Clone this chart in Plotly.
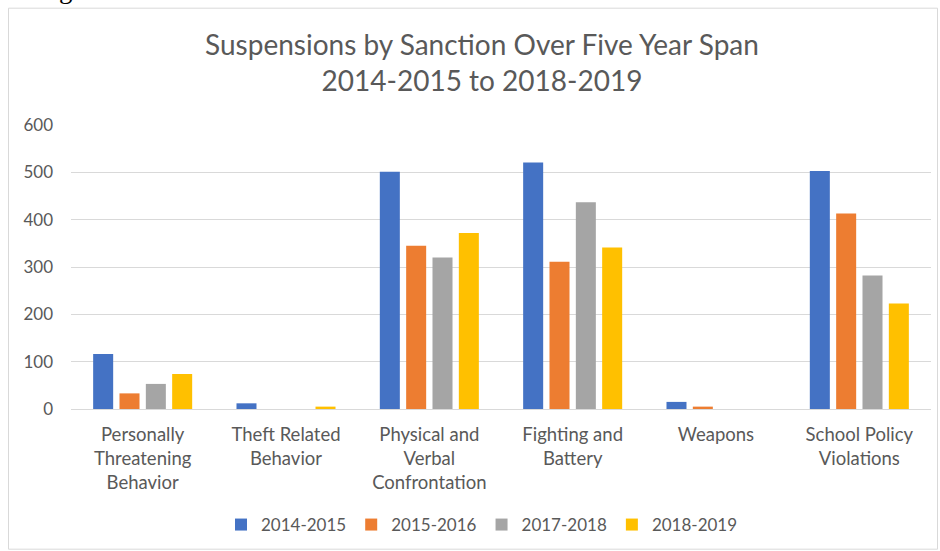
import plotly.graph_objects as go

categories = ["Personally<br>Threatening<br>Behavior", "Theft Related<br>Behavior",
              "Physical and<br>Verbal<br>Confrontation", "Fighting and<br>Battery",
              "Weapons", "School Policy<br>Violations"]
series_names = ["2014-2015", "2015-2016", "2017-2018", "2018-2019"]
v_2014_2015 = [116, 12, 501, 521, 15, 503]
v_2015_2016 = [33, 0, 345, 311, 5, 413]
v_2017_2018 = [53, 0, 320, 437, 0, 282]
v_2018_2019 = [74, 5, 372, 341, 0, 223]
colors = ["#4472C4", "#ED7D31", "#A5A5A5", "#FFC000"]
y_ticks = [0, 100, 200, 300, 400, 500, 600]

W, H = 940, 551
L, R, T, B = 71, 931, 125.3, 409.3

fig = go.Figure()
for name, vals, col in zip(series_names, [v_2014_2015, v_2015_2016, v_2017_2018, v_2018_2019], colors):
    fig.add_trace(go.Bar(x=categories, y=vals, name=name, marker=dict(color=col, line=dict(width=0))))

FONT = "Lato"
GRAY = "#595959"
ph = B - T
pw = R - L

def px_x(x):
    return (x - L) / pw

def px_y(y):
    return (B - y) / ph

fig.update_layout(
    width=W, height=H,
    margin=dict(l=L, r=W - R, t=T, b=H - B, pad=0),
    paper_bgcolor="white", plot_bgcolor="white",
    barmode="group", bargap=0.265, bargroupgap=0.24,
    font=dict(family=FONT, color=GRAY),
    title=dict(text="Suspensions by Sanction Over Five Year Span<br>2014-2015 to 2018-2019",
               x=482 / W, xanchor="center", xref="container",
               y=1 - 55 / H, yanchor="middle", yref="container",
               font=dict(family=FONT, size=28, color=GRAY)),
    xaxis=dict(showgrid=False, showline=False, ticks="", tickfont=dict(size=18.5, color=GRAY),
               ticklabelstandoff=12),
    yaxis=dict(range=[0, 600], tickvals=y_ticks, showgrid=True, gridcolor="#D9D9D9", gridwidth=1,
               zeroline=True, zerolinecolor="#D9D9D9", zerolinewidth=1, showline=False,
               ticks="", tickfont=dict(size=17, color=GRAY), ticklabelstandoff=17),
    legend=dict(orientation="h", xref="container", yref="container", x=482 / W, xanchor="center",
                y=(H - 525) / H, yanchor="middle", font=dict(size=17, color=GRAY),
                itemclick=False, itemwidth=30, tracegroupgap=0),
    showlegend=True,
    shapes=[dict(type="rect", xref="paper", yref="paper",
                 x0=px_x(8.5), x1=px_x(937.5), y0=px_y(549.5), y1=px_y(8.5),
                 line=dict(color="#D9D9D9", width=1), fillcolor="rgba(0,0,0,0)", layer="below")],
    annotations=[dict(text="through PBIS.", xref="paper", yref="paper", x=px_x(0), y=px_y(6),
                      xanchor="left", yanchor="bottom", showarrow=False,
                      font=dict(family="Liberation Serif", size=27, color="black"))],
)

fig.write_html("out.html")
